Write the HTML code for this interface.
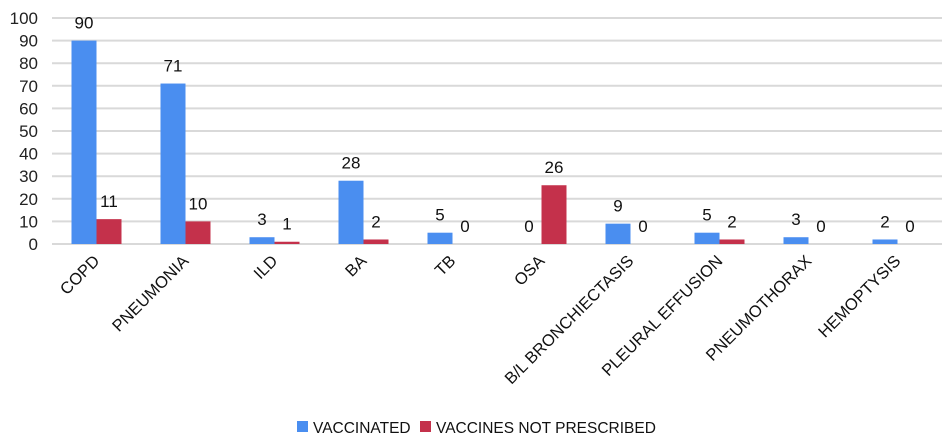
<!DOCTYPE html>
<html><head><meta charset="utf-8"><style>
body{margin:0;background:#fff;font-family:"Liberation Sans",sans-serif;}
svg text{font-family:"Liberation Sans",sans-serif;}
</style></head><body>
<svg id="chart" width="950" height="443"></svg>
<script>
const categories=["COPD","PNEUMONIA","ILD","BA","TB","OSA","B/L BRONCHIECTASIS","PLEURAL EFFUSION","PNEUMOTHORAX","HEMOPTYSIS"];
const vaccinated=[90,71,3,28,5,0,9,5,3,2];
const notPrescribed=[11,10,1,2,0,26,0,2,0,0];
const yTicks=[0,10,20,30,40,50,60,70,80,90,100];
const svg=document.getElementById('chart');
const NS='http://www.w3.org/2000/svg';
const x0=52,x1=942,yBase=244,yTop=18;
const y=v=>yBase-(v/100)*(yBase-yTop);
const bw=(x1-x0)/categories.length;
const xc=i=>x0+bw*(i+0.5);
function mk(t,a){const e=document.createElementNS(NS,t);for(const k in a)e.setAttribute(k,a[k]);svg.appendChild(e);return e;}
yTicks.forEach(t=>{
 const g=mk('line',{x1:x0,x2:x1,y1:y(t),y2:y(t),stroke:'#d9d9d9','stroke-width':2});
 
 
 const l=mk('text',{x:38,y:y(t)+6,'text-anchor':'end','font-size':17,fill:'#222'});
 l.textContent=t;
 
 
});
const barW=25;
categories.forEach((c,i)=>{
 const cx=xc(i);
 [[vaccinated[i],'#4a8ef0',cx-barW,'bar-vaccinated'],[notPrescribed[i],'#c4314b',cx,'bar-not-prescribed']].forEach(([v,col,bx,nm])=>{
  if(v>0){const r=mk('rect',{x:bx,y:y(v),width:barW,height:yBase-y(v),fill:col});
  
  }
  const t=mk('text',{x:bx+barW/2,y:y(v)-12,'text-anchor':'middle','font-size':17,fill:'#111'});
  t.textContent=v;
  
  
 });
 const lb=mk('text',{x:cx+4,y:262,'text-anchor':'end','font-size':16.5,fill:'#111',transform:`rotate(-45 ${cx+4} 262)`});
 lb.textContent=c;
 
 
});
const leg=[["VACCINATED",'#4a8ef0',297],["VACCINES NOT PRESCRIBED",'#c4314b',420]];
leg.forEach(([n,col,lx])=>{
 const s=mk('rect',{x:lx,y:421,width:11,height:11,fill:col});
 
 
 const t=mk('text',{x:lx+16,y:433,'font-size':15.5,fill:'#111'});
 t.textContent=n;
 
 
});
</script>
</body></html>
